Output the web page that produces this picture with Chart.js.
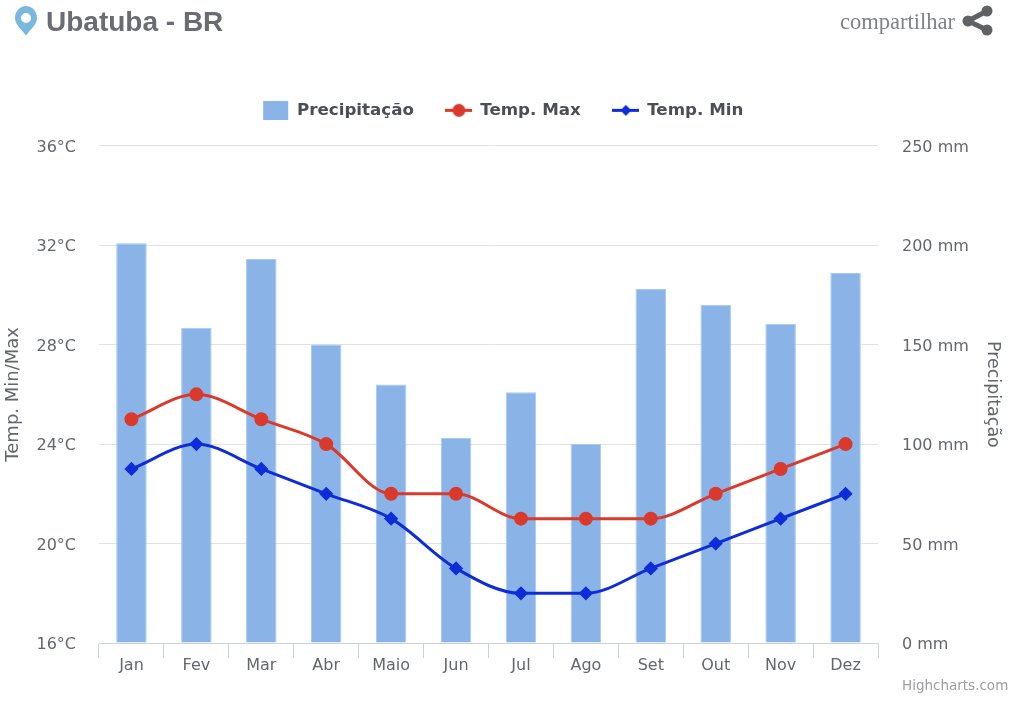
<!DOCTYPE html>
<html>
<head>
<meta charset="utf-8">
<title>Ubatuba - BR</title>
<script src="https://cdn.jsdelivr.net/npm/chart.js@4/dist/chart.umd.min.js"></script>
<style>
    html, body { margin: 0; padding: 0; background: #fff; }
    #wrap { position: relative; width: 1024px; height: 713px; overflow: hidden; }
    #climateChart { position: absolute; left: 0; top: 0; }
    .txt { position: absolute; white-space: nowrap; line-height: 1; }
    #title { left: 46px; top: 6px; font: bold 28px "Liberation Sans", sans-serif; color: #696d73; }
    #share { left: 840px; top: 9px; font: 22.5px "Liberation Serif", serif; color: #808386; }
    #credit { left: 902px; top: 677px; font: 13.5px "DejaVu Sans", sans-serif; color: #9a9da1; }
    svg { position: absolute; }
</style>
</head>
<body>
<div id="wrap">
    <canvas id="climateChart" width="1024" height="713"></canvas>
    <svg style="left:14px;top:5px" width="24" height="32" viewBox="0 0 24 32">
        <path fill-rule="evenodd" fill="#7ab8de" d="M12 1C5.9 1 1 6.4 1 13c0 6.5 7 12 11 17.5C16 25 23 19.5 23 13 23 6.4 18.1 1 12 1zm0 7a5 5 0 1 1 0 10 5 5 0 0 1 0-10z"/>
    </svg>
    <div class="txt" id="title">Ubatuba - BR</div>
    <div class="txt" id="share">compartilhar</div>
    <svg style="left:962px;top:5px" width="33" height="32" viewBox="0 0 33 32">
        <path d="M25 6 L6 16 L25 25" fill="none" stroke="#5f6265" stroke-width="5"/>
        <circle cx="25" cy="6" r="5.5" fill="#5f6265"/>
        <circle cx="6" cy="16" r="5.5" fill="#5f6265"/>
        <circle cx="25" cy="25" r="5.5" fill="#5f6265"/>
    </svg>
    <div class="txt" id="credit">Highcharts.com</div>
</div>
<script>
const months = ['Jan', 'Fev', 'Mar', 'Abr', 'Maio', 'Jun', 'Jul', 'Ago', 'Set', 'Out', 'Nov', 'Dez'];
const rainfall = [201, 158.5, 193, 150, 130, 103, 126, 100, 178, 170, 160.5, 186];
const tempMax = [25, 26, 25, 24, 22, 22, 21, 21, 21, 22, 23, 24];
const tempMin = [23, 24, 23, 22, 21, 19, 18, 18, 19, 20, 21, 22];
const tempTicks = [16, 20, 24, 28, 32, 36];
const rainTicks = [0, 50, 100, 150, 200, 250];

const barColor = '#8ab4e8';
const redColor = '#da3a2c';
const blueColor = '#0f2cd8';
const textColor = '#63676c';
const tickFont = { family: 'DejaVu Sans', size: 16 };

// legend icons: the native ones can't show a line with a marker on it
function legendIcon(kind) {
    var c = document.createElement('canvas');
    c.width = 27;
    c.height = 19;
    var g = c.getContext('2d');
    if (kind == 'bar') {
        g.fillStyle = barColor;
        g.fillRect(1, 0, 25, 19);
        return c;
    }
    var col = kind == 'max' ? redColor : blueColor;
    g.strokeStyle = col;
    g.fillStyle = col;
    g.lineWidth = 3;
    g.beginPath();
    g.moveTo(0, 9.5);
    g.lineTo(27, 9.5);
    g.stroke();
    g.beginPath();
    if (kind == 'max') {
        g.arc(13.5, 9.5, 6.5, 0, Math.PI * 2);
    } else {
        g.moveTo(13.5, 4);
        g.lineTo(19, 9.5);
        g.lineTo(13.5, 15);
        g.lineTo(8, 9.5);
        g.closePath();
    }
    g.fill();
    return c;
}
const icons = [legendIcon('bar'), legendIcon('max'), legendIcon('min')];

function setTicks(list) {
    return function(axis) {
        axis.ticks = list.map(function(v) { return { value: v }; });
    };
}

const legendShift = {
    id: 'legendShift',
    afterLayout: function(chart) {
        chart.legend.top = 70;
    }
};

var ctx = document.getElementById('climateChart').getContext('2d');
var climateChart = new Chart(ctx, {
    data: {
        labels: months,
        datasets: [
            {
                type: 'bar',
                label: 'Precipitação',
                data: rainfall,
                yAxisID: 'rain',
                backgroundColor: barColor,
                borderColor: '#a6c9ef',
                borderWidth: 1,
                barPercentage: 0.47,
                categoryPercentage: 1,
                order: 3
            },
            {
                type: 'line',
                label: 'Temp. Max',
                data: tempMax,
                yAxisID: 'temp',
                borderColor: redColor,
                backgroundColor: redColor,
                borderWidth: 3,
                cubicInterpolationMode: 'monotone',
                pointStyle: 'circle',
                pointRadius: 5.5,
                order: 2
            },
            {
                type: 'line',
                label: 'Temp. Min',
                data: tempMin,
                yAxisID: 'temp',
                borderColor: blueColor,
                backgroundColor: blueColor,
                borderWidth: 3,
                cubicInterpolationMode: 'monotone',
                pointStyle: 'rectRot',
                pointRadius: 5,
                order: 1
            }
        ]
    },
    options: {
        responsive: false,
        animation: false,
        layout: { padding: { top: 87, right: 18, bottom: 0, left: 0 } },
        scales: {
            x: {
                offset: true,
                afterFit: function(axis) { axis.height = 70; },
                grid: { drawOnChartArea: false, offset: true, tickLength: 15, color: '#ccd2da' },
                border: { color: '#ccd2da' },
                ticks: { color: textColor, font: tickFont, padding: -2, maxRotation: 0 }
            },
            temp: {
                position: 'left',
                min: 16,
                max: 36,
                afterBuildTicks: setTicks(tempTicks),
                afterFit: function(axis) { axis.width = 99; },
                grid: { color: '#dfe3e8', tickLength: 0 },
                border: { display: false },
                ticks: {
                    color: textColor,
                    font: tickFont,
                    padding: 23,
                    labelOffset: 2,
                    callback: function(v) { return v + '°C'; }
                },
                title: {
                    display: true,
                    text: 'Temp. Min/Max',
                    color: textColor,
                    font: { family: 'DejaVu Sans', size: 18 },
                    padding: { top: 3, bottom: 0 }
                }
            },
            rain: {
                position: 'right',
                min: 0,
                max: 250,
                afterBuildTicks: setTicks(rainTicks),
                afterFit: function(axis) { axis.width = 128; },
                grid: { drawOnChartArea: false, tickLength: 0 },
                border: { display: false },
                ticks: {
                    color: textColor,
                    font: tickFont,
                    padding: 24,
                    labelOffset: 2,
                    callback: function(v) { return v + ' mm'; }
                },
                title: {
                    display: true,
                    text: 'Precipitação',
                    color: textColor,
                    font: { family: 'DejaVu Sans', size: 17.5 },
                    padding: { top: 3, bottom: 0 }
                }
            }
        },
        plugins: {
            tooltip: { enabled: false },
            legend: {
                position: 'top',
                labels: {
                    usePointStyle: true,
                    pointStyleWidth: 26,
                    padding: 32,
                    color: '#4b4f55',
                    font: { family: 'DejaVu Sans', size: 16.7, weight: 'bold' },
                    sort: function(a, b) { return a.datasetIndex - b.datasetIndex; },
                    generateLabels: function(chart) {
                        var items = Chart.defaults.plugins.legend.labels.generateLabels(chart);
                        items.forEach(function(item) {
                            item.pointStyle = icons[item.datasetIndex];
                        });
                        return items;
                    }
                }
            }
        }
    },
    plugins: [legendShift]
});
</script>
</body>
</html>
